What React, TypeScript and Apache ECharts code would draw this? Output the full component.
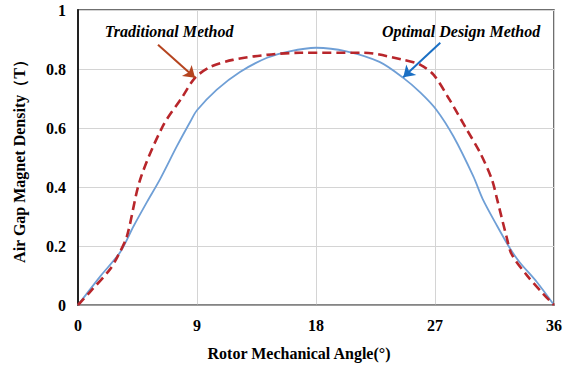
import React, { useEffect, useRef } from "react";
import * as echarts from "echarts";

const xTicks = [0, 9, 18, 27, 36];
const yTicks = [0, 0.2, 0.4, 0.6, 0.8, 1];

const optimalX = [0, 1.7, 3.2, 4.2, 5.2, 6.2, 7.5, 8.5, 9, 10.5, 12.25, 14.3, 16, 18, 20.3, 22.8, 24.6, 25.9, 27.1, 28.4, 29.9, 30.6, 31.7, 32.7, 33.4, 34.7, 36];
const optimalY = [0, 0.098, 0.18, 0.267, 0.348, 0.426, 0.54, 0.622, 0.66, 0.73, 0.79, 0.838, 0.86, 0.872, 0.86, 0.824, 0.77, 0.72, 0.662, 0.571, 0.436, 0.36, 0.268, 0.19, 0.145, 0.078, 0];

const traditionalX = [0, 0.9, 2.4, 3.0, 3.7, 4.7, 6.4, 7.9, 8.85, 10, 11.7, 14.3, 16.8, 21.6, 24.6, 25.9, 26.9, 28.1, 29.4, 30.4, 31.3, 31.7, 32.4, 32.8, 34, 35.2, 36];
const traditionalY = [0, 0.044, 0.12, 0.165, 0.233, 0.425, 0.605, 0.706, 0.77, 0.807, 0.831, 0.848, 0.855, 0.855, 0.831, 0.814, 0.78, 0.696, 0.595, 0.517, 0.426, 0.358, 0.233, 0.172, 0.098, 0.037, 0];

const seriesNames = ["Optimal Design Method", "Traditional Method"];

const FONT = "Liberation Serif";

export default function App() {
  const ref = useRef<HTMLDivElement>(null);
  useEffect(() => {
    const chart = echarts.init(ref.current!, null, { renderer: "svg" });
    const opt = optimalX.map((x, i) => [x, optimalY[i]]);
    const trad = traditionalX.map((x, i) => [x, traditionalY[i]]);
    chart.setOption({
      animation: false,
      textStyle: { fontFamily: FONT },
      grid: {
        left: 78,
        right: 13,
        top: 10,
        bottom: 60,
        show: true,
        borderColor: "#404040",
        borderWidth: 1.5,
      },
      xAxis: {
        type: "value",
        min: xTicks[0],
        max: xTicks[xTicks.length - 1],
        interval: 9,
        name: "Rotor Mechanical Angle(°)",
        nameLocation: "middle",
        nameGap: 40,
        nameTextStyle: { fontFamily: FONT, fontWeight: "bold", fontSize: 16, color: "#000", padding: [0, 34, 0, 0] },
        axisLine: { show: true, lineStyle: { color: "#8c8c8c", width: 1.5 } },
        axisTick: { show: false },
        axisLabel: { fontFamily: FONT, fontWeight: "bold", fontSize: 16, color: "#000", margin: 12 },
        splitLine: { show: true, lineStyle: { color: "#d4d4d4", width: 1 } },
      },
      yAxis: {
        type: "value",
        min: yTicks[0],
        max: yTicks[yTicks.length - 1],
        interval: 0.2,
        name: "Air Gap Magnet Density（T）",
        nameLocation: "middle",
        nameGap: 51,
        nameTextStyle: { fontFamily: FONT, fontWeight: "bold", fontSize: 16, color: "#000" },
        axisLine: { show: true, lineStyle: { color: "#222", width: 2 } },
        axisTick: { show: false },
        axisLabel: {
          fontFamily: FONT,
          fontWeight: "bold",
          fontSize: 16,
          color: "#000",
          margin: 12,
          formatter: (v: number) => (v === 0 || v === 1 ? String(v) : v.toFixed(1)),
        },
        splitLine: { show: true, lineStyle: { color: "#d4d4d4", width: 1 } },
      },
      series: [
        {
          name: seriesNames[0],
          type: "line",
          data: opt,
          smooth: 0.3,
          showSymbol: false,
          lineStyle: { color: "#6f9fd6", width: 1.8 },
          z: 3,
        },
        {
          name: seriesNames[1],
          type: "line",
          data: trad,
          smooth: 0.3,
          showSymbol: false,
          lineStyle: { color: "#b8262b", width: 2.6, type: [9, 5] },
          z: 4,
          markLine: {
            silent: true,
            symbol: ["none", "arrow"],
            symbolSize: 11,
            label: { show: false },
            data: [
              [
                { coord: [6.05, 0.882], lineStyle: { color: "#b5441f", width: 2, type: "solid" } },
                { coord: [8.85, 0.77] },
              ],
              [
                { coord: [27.4, 0.889], lineStyle: { color: "#1a6fc4", width: 2, type: "solid" } },
                { coord: [24.6, 0.772] },
              ],
            ],
          },
        },
      ],
      graphic: [
        {
          type: "text",
          x: 169,
          y: 31,
          style: {
            text: seriesNames[1],
            fontFamily: FONT,
            fontWeight: "bold",
            fontStyle: "italic",
            fontSize: 16,
            fill: "#000",
            align: "center",
            verticalAlign: "middle",
          },
        },
        {
          type: "text",
          x: 461,
          y: 31,
          style: {
            text: seriesNames[0],
            fontFamily: FONT,
            fontWeight: "bold",
            fontStyle: "italic",
            fontSize: 16,
            fill: "#000",
            align: "center",
            verticalAlign: "middle",
          },
        },
      ],
    });
    return () => chart.dispose();
  }, []);
  return <div ref={ref} style={{ width: 567, height: 366, position: "absolute", left: 0, top: 0 }} />;
}
